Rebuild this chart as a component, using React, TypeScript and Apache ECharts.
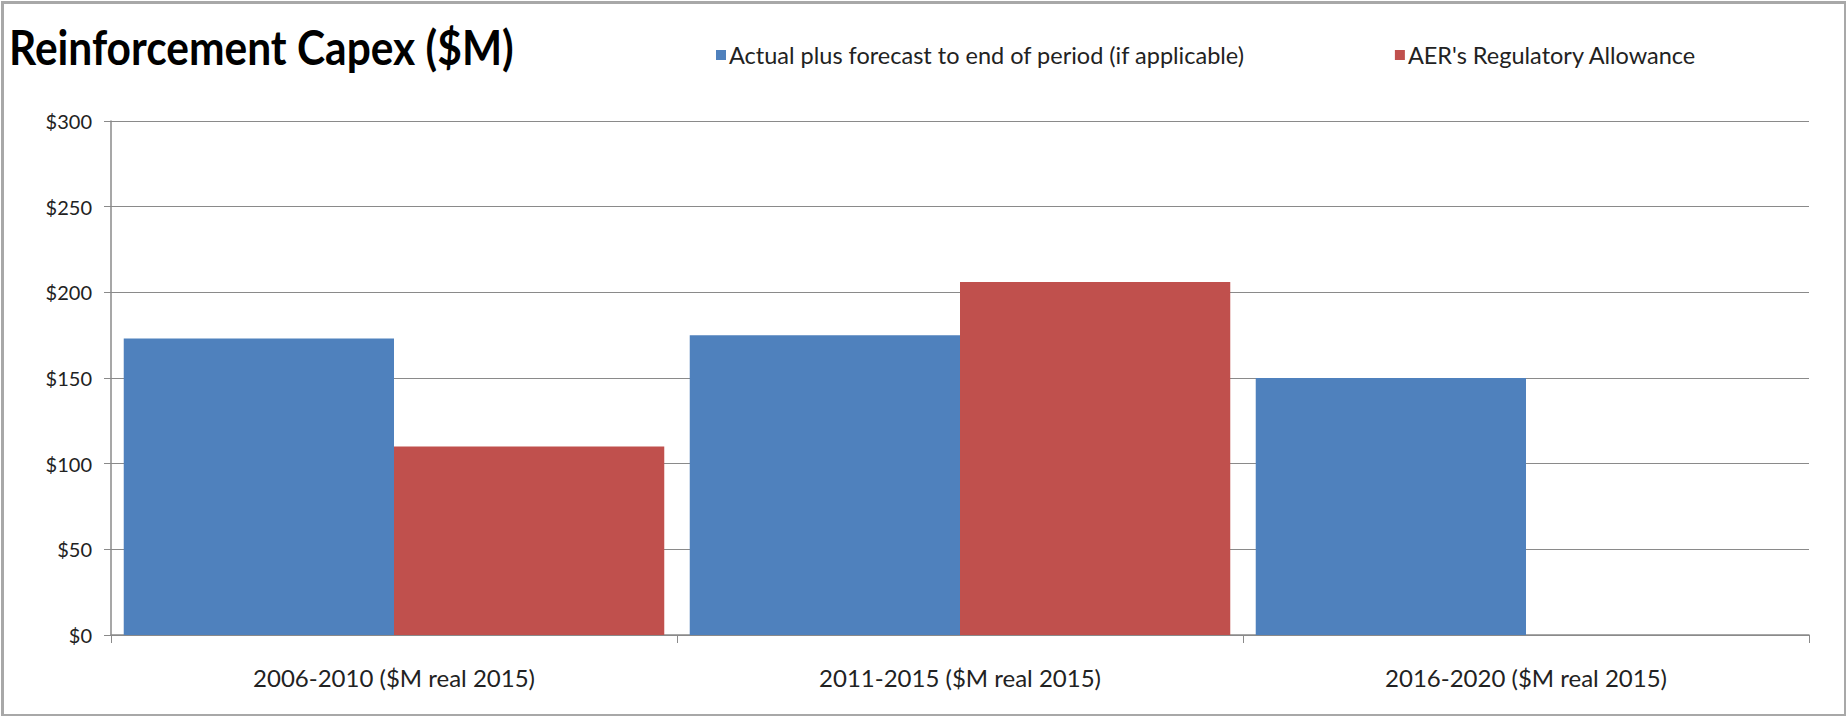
import React, { useEffect, useRef } from "react";
import * as echarts from "echarts";

const categories = [
  "2006-2010 ($M real 2015)",
  "2011-2015 ($M real 2015)",
  "2016-2020 ($M real 2015)",
];
const actualValues = [173, 175, 150];
const allowanceValues: (number | null)[] = [110, 206, null];
const seriesNames = [
  "Actual plus forecast to end of period (if applicable)",
  "AER's Regulatory Allowance",
];
const titleText = "Reinforcement Capex ($M)";

const FONT = "Lato, 'Open Sans', sans-serif";

export default function App() {
  const ref = useRef<HTMLDivElement>(null);
  useEffect(() => {
    document.body.style.margin = "0";
    const chart = echarts.init(ref.current!, null, { renderer: "svg" });
    chart.setOption({
      animation: false,
      backgroundColor: "#ffffff",
      legend: {
        left: 711,
        top: 38,
        itemWidth: 10,
        itemHeight: 10,
        itemGap: 150,
        icon: "rect",
        textStyle: { fontFamily: FONT, fontSize: 23.5, color: "#222", padding: [0, 0, 0, -2] },
        data: seriesNames,
      },
      graphic: [
        {
          type: "rect",
          left: 0,
          top: 0,
          shape: { x: 0, y: 0, width: 1843, height: 713 },
          style: { fill: "none", stroke: "#a8a8a8", lineWidth: 3 },
          silent: true,
        },
        {
          type: "text",
          x: 9,
          y: 22,
          scaleX: 0.885,
          style: {
            text: titleText,
            fontFamily: FONT,
            fontSize: 48,
            fontWeight: "bold",
            fill: "#000",
          },
        },
      ],
      grid: { left: 111, right: 37, top: 121, bottom: 81, containLabel: false },
      xAxis: {
        type: "category",
        data: categories,
        axisLine: { show: true, lineStyle: { color: "#8a8a8a", width: 1.5 } },
        axisTick: { show: true, length: 8, alignWithLabel: false, lineStyle: { color: "#8a8a8a" } },
        axisLabel: { fontFamily: FONT, fontSize: 24, color: "#222", margin: 30 },
      },
      yAxis: {
        type: "value",
        min: 0,
        max: 300,
        interval: 50,
        axisLine: { show: true, lineStyle: { color: "#8a8a8a", width: 1.5 } },
        axisTick: { show: true, length: 7, lineStyle: { color: "#8a8a8a" } },
        splitLine: { show: true, lineStyle: { color: "#8a8a8a", width: 1.2 } },
        axisLabel: {
          fontFamily: FONT,
          fontSize: 20,
          color: "#222",
          margin: 19,
          formatter: (v: number) => "$" + v,
        },
      },
      series: [
        {
          name: seriesNames[0],
          type: "bar",
          data: actualValues,
          barGap: "0%",
          barCategoryGap: "4.5%",
          itemStyle: { color: "#4F81BD" },
        },
        {
          name: seriesNames[1],
          type: "bar",
          data: allowanceValues,
          barGap: "0%",
          barCategoryGap: "4.5%",
          itemStyle: { color: "#C0504D" },
        },
      ],
    });
    return () => chart.dispose();
  }, []);
  return <div ref={ref} style={{ width: 1846, height: 716 }} />;
}
